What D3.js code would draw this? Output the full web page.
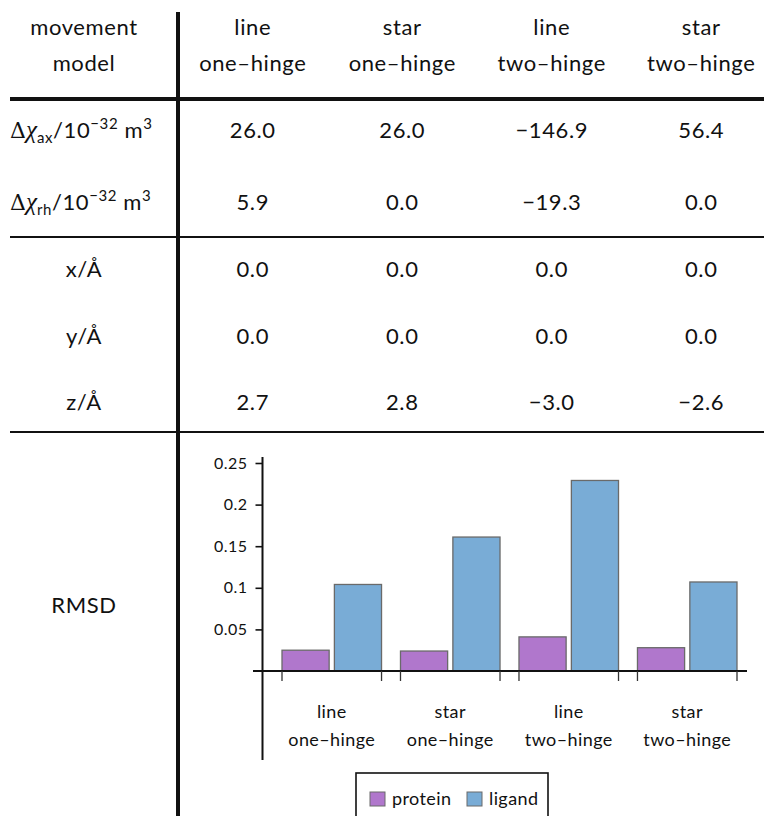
<!DOCTYPE html>
<html><head><meta charset="utf-8">
<script src="https://cdn.jsdelivr.net/npm/d3@7"></script>
<style>
html,body{margin:0;padding:0;background:#fff;}
svg text{font-family:Lato,"Open Sans",sans-serif;fill:#111;}
</style></head><body>
<svg id="chart" width="766" height="816"></svg>
<script>
// Fitted movement models: one column per model
const modelShapes = ["line", "star", "line", "star"];
const modelHinges = ["one–hinge", "one–hinge", "two–hinge", "two–hinge"];

// Anisotropy of the magnetic susceptibility tensor (10^-32 m^3)
const chiAxial = [26.0, 26.0, -146.9, 56.4];
const chiRhombic = [5.9, 0.0, -19.3, 0.0];

// Metal position offsets (Å)
const offsetX = [0.0, 0.0, 0.0, 0.0];
const offsetY = [0.0, 0.0, 0.0, 0.0];
const offsetZ = [2.7, 2.8, -3.0, -2.6];

// RMSD per model
const rmsdProtein = [0.025, 0.024, 0.041, 0.028];
const rmsdLigand = [0.104, 0.161, 0.229, 0.107];
const seriesNames = ["protein", "ligand"];
const seriesColors = ["#b077cc", "#79acd6"];

const yTickValues = [0.05, 0.1, 0.15, 0.2, 0.25];
const yTickLabels = ["0.05", "0.1", "0.15", "0.2", "0.25"];

const svg = d3.select("#chart");
const fmt = d3.format(".1f");
const labelX = 84;
const bigFont = 22;
const bigSpacing = 0.6;

function bigText(sel) {
  return sel.attr("font-size", bigFont).attr("letter-spacing", bigSpacing);
}

// ---------- table ----------
const col = d3.scaleBand().domain(d3.range(modelShapes.length)).range([178, 776]);
const colMid = i => col(i) + col.bandwidth() / 2;

// header
bigText(svg.append("text").attr("x", labelX).attr("y", 35).attr("text-anchor", "middle")).text("movement");
bigText(svg.append("text").attr("x", labelX).attr("y", 71).attr("text-anchor", "middle")).text("model");
bigText(svg.append("g").selectAll("text").data(modelShapes).join("text")
  .attr("x", (d, i) => colMid(i)).attr("y", 35).attr("text-anchor", "middle")).text(d => d);
bigText(svg.append("g").selectAll("text").data(modelHinges).join("text")
  .attr("x", (d, i) => colMid(i)).attr("y", 71).attr("text-anchor", "middle")).text(d => d);

// susceptibility row labels
function chiLabel(y, sub) {
  const t = bigText(svg.append("text").attr("x", 10).attr("y", y));
  t.append("tspan").attr("font-family", "'DejaVu Serif',serif").attr("font-size", 22)
    .attr("letter-spacing", 0).text("Δ");
  t.append("tspan").attr("font-family", "'Liberation Serif',serif").attr("font-style", "italic")
    .attr("font-size", 25).attr("letter-spacing", 0).text("χ");
  t.append("tspan").attr("font-size", 15).attr("dy", 5).text(sub);
  t.append("tspan").attr("dy", -5).text("/10");
  t.append("tspan").attr("font-size", 15).attr("dy", -9).text("−32");
  t.append("tspan").attr("dy", 9).text(" m");
  t.append("tspan").attr("font-size", 15).attr("dy", -9).text("3");
}
chiLabel(138, "ax");
chiLabel(210, "rh");

function valueRow(values, y) {
  bigText(svg.append("g").selectAll("text").data(values).join("text")
    .attr("x", (d, i) => colMid(i)).attr("y", y).attr("text-anchor", "middle")).text(d => fmt(d));
}
valueRow(chiAxial, 138);
valueRow(chiRhombic, 210);

[["x/Å", offsetX, 277], ["y/Å", offsetY, 344], ["z/Å", offsetZ, 410]].forEach(([lab, vals, y]) => {
  bigText(svg.append("text").attr("x", labelX).attr("y", y).attr("text-anchor", "middle")).text(lab);
  valueRow(vals, y);
});

bigText(svg.append("text").attr("x", labelX).attr("y", 613).attr("text-anchor", "middle")).text("RMSD");

// rules
svg.append("line").attr("x1", 178).attr("x2", 178).attr("y1", 12).attr("y2", 816)
  .attr("stroke", "#111").attr("stroke-width", 4);
svg.append("line").attr("x1", 10).attr("x2", 764).attr("y1", 99).attr("y2", 99)
  .attr("stroke", "#111").attr("stroke-width", 4);
[237, 432].forEach(y => svg.append("line").attr("x1", 10).attr("x2", 764)
  .attr("y1", y).attr("y2", y).attr("stroke", "#111").attr("stroke-width", 2));

// ---------- RMSD bar chart ----------
const groups = d3.range(modelShapes.length);
const x = d3.scaleBand().domain(groups).range([282, 737]).paddingInner(0.16).paddingOuter(0);
const xs = d3.scaleBand().domain(seriesNames).range([0, x.bandwidth()]).paddingInner(0.1);
const y = d3.scaleLinear().domain([0, 0.25]).range([671, 463]);

const series = [rmsdProtein, rmsdLigand];
const barData = [];
groups.forEach(g => seriesNames.forEach((s, k) => barData.push({g, s, k, v: series[k][g]})));

const chart = svg.append("g");
chart.selectAll("rect").data(barData).join("rect")
  .attr("x", d => x(d.g) + xs(d.s))
  .attr("y", d => y(d.v))
  .attr("width", xs.bandwidth())
  .attr("height", d => y(0) - y(d.v))
  .attr("fill", d => seriesColors[d.k])
  .attr("stroke", "#6a6a6a").attr("stroke-width", 1.3);

// x axis line and group edge ticks
chart.append("line").attr("x1", 253).attr("x2", 747).attr("y1", y(0)).attr("y2", y(0))
  .attr("stroke", "#111").attr("stroke-width", 2);
const edges = groups.flatMap(g => [x(g), x(g) + x.bandwidth()]);
chart.append("g").selectAll("line").data(edges).join("line")
  .attr("x1", d => d).attr("x2", d => d).attr("y1", y(0)).attr("y2", y(0) + 10)
  .attr("stroke", "#333").attr("stroke-width", 1.3);

// y axis
const yAxis = d3.axisLeft(y).tickValues(yTickValues).tickSize(7).tickPadding(8)
  .tickFormat((d, i) => yTickLabels[i]);
const ya = chart.append("g").attr("transform", "translate(262.5,0)").call(yAxis);
ya.select(".domain").remove();
ya.selectAll(".tick line").attr("stroke", "#111").attr("stroke-width", 1.6);
ya.selectAll(".tick text").attr("font-size", 16).attr("letter-spacing", 0.5)
  .attr("font-family", "Lato,sans-serif").attr("fill", "#111");
chart.append("line").attr("x1", 262.5).attr("x2", 262.5).attr("y1", 457).attr("y2", 760)
  .attr("stroke", "#111").attr("stroke-width", 2);

// category labels
chart.append("g").selectAll("text").data(groups).join("text")
  .attr("x", g => x(g) + x.bandwidth() / 2).attr("y", 718).attr("text-anchor", "middle")
  .attr("font-size", 18).attr("letter-spacing", 0.4).text(g => modelShapes[g]);
chart.append("g").selectAll("text").data(groups).join("text")
  .attr("x", g => x(g) + x.bandwidth() / 2).attr("y", 746).attr("text-anchor", "middle")
  .attr("font-size", 18).attr("letter-spacing", 0.4).text(g => modelHinges[g]);

// legend
const legend = svg.append("g");
legend.append("rect").attr("x", 356).attr("y", 773).attr("width", 192).attr("height", 60)
  .attr("fill", "#fff").attr("stroke", "#111").attr("stroke-width", 1.6);
const legendX = [370, 467];
seriesNames.forEach((s, k) => {
  legend.append("rect").attr("x", legendX[k]).attr("y", 792).attr("width", 15).attr("height", 14)
    .attr("fill", seriesColors[k]).attr("stroke", "#6a6a6a").attr("stroke-width", 1);
  legend.append("text").attr("x", legendX[k] + 22).attr("y", 805).attr("font-size", 18)
    .attr("letter-spacing", 0.4).text(s);
});
</script>
</body></html>
